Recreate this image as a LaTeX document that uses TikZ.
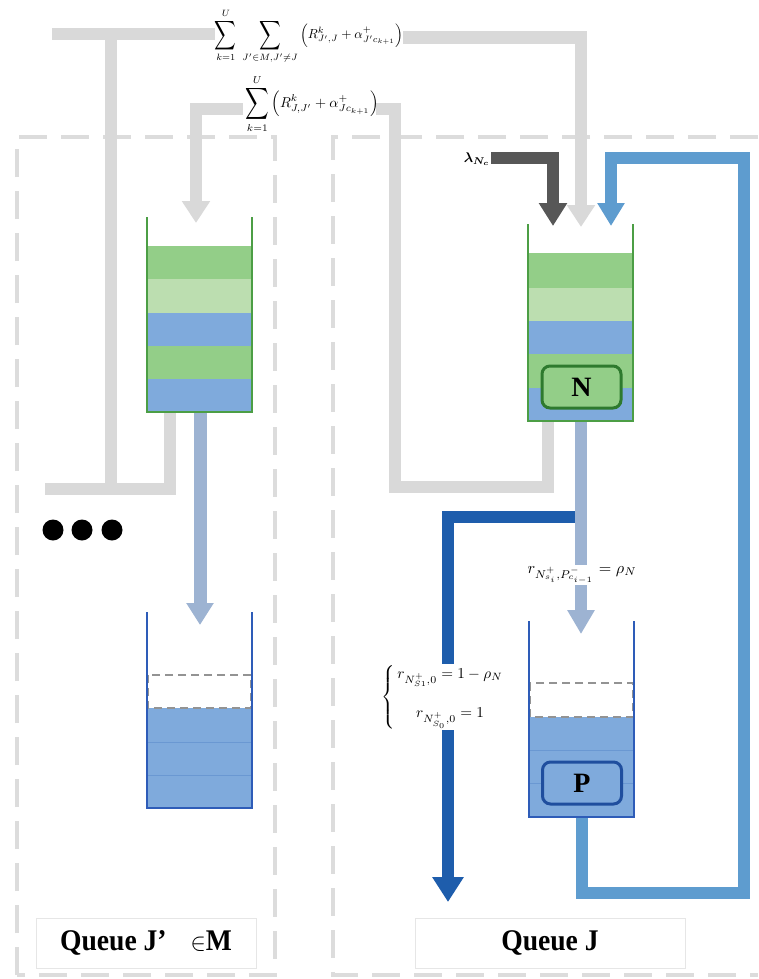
\documentclass[tikz,border=0pt]{standalone}
\usepackage{amsmath}
\usepackage{graphicx}
\usepackage{fontspec}
\setmainfont{Liberation Serif}
\usetikzlibrary{arrows.meta}
\definecolor{lgray}{HTML}{D9D9D9}
\definecolor{dashg}{HTML}{DCDCDC}
\definecolor{dgray}{HTML}{575757}
\definecolor{gA}{HTML}{93CE88}
\definecolor{gB}{HTML}{BCDEB0}
\definecolor{bA}{HTML}{7FAADC}
\definecolor{bLine}{HTML}{6A98D2}
\definecolor{steel}{HTML}{9DB3D2}
\definecolor{dblue}{HTML}{1E5DAC}
\definecolor{lblue}{HTML}{5E9CCF}
\definecolor{qgreen}{HTML}{4C9E45}
\definecolor{qblue}{HTML}{2E5CB8}
\definecolor{Nborder}{HTML}{2E7A2E}
\definecolor{Pborder}{HTML}{1F4E9E}
\definecolor{boxg}{HTML}{E6E6E6}
\newcommand{\tallsum}{\mathop{\vcenter{\hbox{\scalebox{1.15}[1.55]{$\displaystyle\sum$}}}}\limits}
\begin{document}
\begin{tikzpicture}[x=1pt,y=-1pt,
  region/.style={draw=dashg,line width=3.5pt,dash pattern=on 28pt off 14pt},
  graybar/.style={draw=lgray,line width=12.5pt},
  bigtip/.style={-{Triangle[width=27pt,length=22pt]}},
  wallg/.style={draw=qgreen,line width=1.6pt},
  wallb/.style={draw=qblue,line width=1.6pt},
  slot/.style={draw=gray!85,line width=1.6pt,dash pattern=on 8pt off 5pt},
  bandline/.style={draw=bLine,line width=0.8pt},
  tag/.style={draw=boxg,line width=1pt,fill=white,minimum width=#1,minimum height=50pt,inner sep=0pt},
  itembox/.style={rounded corners=8pt,line width=3pt,minimum width=79pt,minimum height=42pt,inner sep=0pt,font=\fontsize{28}{30}\selectfont\bfseries},
  formula/.style={inner sep=1pt}
]
\useasboundingbox (0,0) rectangle (758,979);

% dashed regions
\draw[region] (17,975) -- (17,137) -- (275,137) -- (275,975) -- (17,975);
\draw[region] (758,137) -- (333,137) -- (333,975) -- (758,975);

% named coordinates
\coordinate (topL) at (52,34);
\coordinate (stemT) at (111,34);
\coordinate (stemB) at (111,489);
\coordinate (qLbot) at (170,412);
\coordinate (sum1R) at (403,37.5);
\coordinate (cornerA) at (581,37.5);
\coordinate (inJ1) at (581,227);
\coordinate (qJbot) at (548,421);
\coordinate (s2R) at (376,109);
\coordinate (s2L) at (243,109);
\coordinate (inL) at (196,223);
\coordinate (lamS) at (491,158);
\coordinate (inJ0) at (553,226);
\coordinate (Pout) at (582,817);
\coordinate (inJ2) at (611,226);
\coordinate (Nout) at (581,421);
\coordinate (Pin) at (581,634);
\coordinate (split) at (576,517);
\coordinate (exitT) at (448,902);
\coordinate (Lout) at (200,412);
\coordinate (Lin) at (200,625);

% gray connectors
\draw[graybar] (topL) -- (215,34);
\draw[graybar] (stemT) -- (stemB);
\draw[graybar] (qLbot) -- (170,489) -- (45,489);
\draw[graybar,bigtip] (sum1R) -- (cornerA) -- (inJ1);
\draw[graybar] (qJbot) -- (548,487) -- (395,487) -- (395,109) -- (s2R);
\draw[graybar,bigtip] (s2L) -- (196,109) -- (inL);

% dark gray arrival
\draw[draw=dgray,line width=12pt,-{Triangle[width=27pt,length=23pt]}] (lamS) -- (553,158) -- (inJ0);

% blue feedback loop
\draw[draw=lblue,line width=12pt,-{Triangle[width=26pt,length=23pt]}] (Pout) -- (582,893) -- (744,893) -- (744,158) -- (611,158) -- (inJ2);

% dark blue exit
\draw[draw=dblue,line width=12pt,-{Triangle[width=30pt,length=25pt]}] (split) -- (448,517) -- (exitT);

% steel connectors
\draw[draw=steel,line width=12pt,-{Triangle[width=26pt,length=24pt]}] (Nout) -- (Pin);
\draw[draw=steel,line width=13pt,-{Triangle[width=26pt,length=22pt]}] (Lout) -- (Lin);

% queue J' (left top)
\fill[gA] (147,246) rectangle (252,279);
\fill[gB] (147,279) rectangle (252,313);
\fill[bA] (147,313) rectangle (252,346);
\fill[gA] (147,346) rectangle (252,379);
\fill[bA] (147,379) rectangle (252,412);
\draw[wallg] (147,217) -- (147,412) -- (252,412) -- (252,217);

% queue J (right top)
\fill[gA] (528,253) rectangle (633,288);
\fill[gB] (528,288) rectangle (633,321);
\fill[bA] (528,321) rectangle (633,354);
\fill[gA] (528,354) rectangle (633,388);
\fill[bA] (528,388) rectangle (633,421);
\draw[wallg] (528,224) -- (528,421) -- (633,421) -- (633,224);
\node[itembox,draw=Nborder,fill=gA] (N) at (581.5,387) {N};

% lower left queue
\fill[bA] (147,708) rectangle (252,808);
\draw[bandline] (147,742) -- (252,742);
\draw[bandline] (147,775) -- (252,775);
\draw[slot] (148,675) rectangle (251,708);
\draw[wallb] (147,612) -- (147,808) -- (252,808) -- (252,612);

% queue P (lower right)
\fill[bA] (529,717) rectangle (634,817);
\draw[bandline] (529,750) -- (634,750);
\draw[bandline] (529,783) -- (634,783);
\draw[slot] (530,683) rectangle (633,717);
\draw[wallb] (529,621) -- (529,817) -- (634,817) -- (634,621);
\node[itembox,draw=Pborder,fill=bA] (P) at (582,783) {P};

% dots
\foreach \cx [count=\i] in {53,82,112} \fill[black] (\cx,530) circle (10.5pt) coordinate (dot\i);

% formulas
\node[formula] (sum1) at (309,36) {\resizebox{188pt}{!}{$\displaystyle\tallsum_{k=1}^{U}\ \tallsum_{J'\in M,J'\neq J}\left(R^{k}_{J',J}+\alpha^{+}_{J'c_{k+1}}\right)$}};
\node[formula] (sum2) at (312,104) {\resizebox{133pt}{!}{$\displaystyle\tallsum_{k=1}^{U}\left(R^{k}_{J,J'}+\alpha^{+}_{Jc_{k+1}}\right)$}};
\node[formula,anchor=east] (lam) at (491,159) {\resizebox{26pt}{!}{$\boldsymbol{\lambda}_{\boldsymbol{N_c}}$}};
\node[formula,fill=white] (rlab) at (582,575) {\resizebox{109pt}{!}{$r_{N^{+}_{s_i},P^{-}_{c_{i-1}}}=\rho_N$}};
\node[formula,fill=white] (brace) at (443,697) {\resizebox{123pt}{!}{$\left\{\,\begin{array}{@{}c@{}}r_{N^{+}_{S1},0}=1-\rho_N\\[14pt] r_{N^{+}_{S_0},0}=1\end{array}\right.$}};

% queue labels
\node[tag=220pt] (tagL) at (146,943) {\scalebox{0.92}[1]{\fontsize{30}{32}\selectfont\bfseries Queue J’\hspace{26pt}$\in$M}};
\node[tag=270pt] (tagR) at (550,943) {\scalebox{0.92}[1]{\fontsize{30}{32}\selectfont\bfseries Queue J}};
\end{tikzpicture}
\end{document}
